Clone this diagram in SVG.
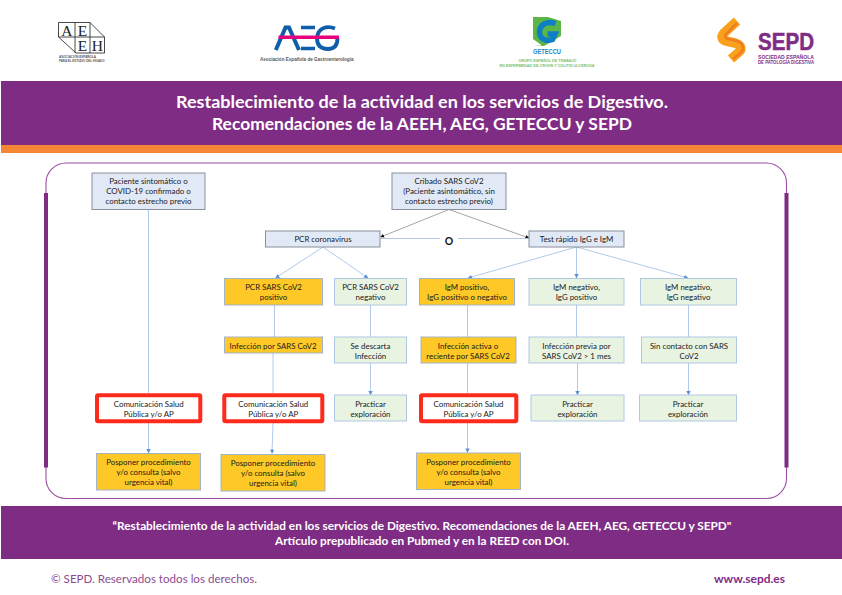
<svg xmlns="http://www.w3.org/2000/svg" width="842" height="595" viewBox="0 0 842 595">
<style>
text{font-family:Lato,"Open Sans",sans-serif}
.t{font-size:7.900px;fill:#1a1a1a;text-anchor:middle}
.blue{fill:#e2e9f6;stroke:#8a8f99;stroke-width:1}
.or{fill:#fec827;stroke:#a3b4c8;stroke-width:1}
.gr{fill:#e9f3e2;stroke:#b0c8e4;stroke-width:1}
.red{fill:#fff;stroke:#fe2a1c;stroke-width:4}
.c{fill:none;stroke:#a9c4e8;stroke-width:.9}
.k{fill:none;stroke:#7f7f7f;stroke-width:.7}
.h{font-size:17px;font-weight:700;fill:#fff;text-anchor:middle}
.f{font-size:10.500px;font-weight:700;fill:#fff;text-anchor:middle}
.s{font-family:"Liberation Serif",serif;font-size:15.500px;fill:#222;text-anchor:middle}
.b{font-family:"Liberation Sans",sans-serif;font-weight:700}
</style>
<defs>
<marker id="a" viewBox="0 0 6 6" refX="5.500" refY="3" markerWidth="4.400" markerHeight="4.400" markerUnits="userSpaceOnUse" orient="auto"><path d="M0 0L6 3L0 6Z" fill="#5b8fd6"/></marker>
<marker id="b" viewBox="0 0 6 6" refX="5.500" refY="3" markerWidth="4" markerHeight="4" markerUnits="userSpaceOnUse" orient="auto"><path d="M0 0L6 3L0 6Z" fill="#111"/></marker>
</defs>
<rect width="842" height="595" fill="#fff"/>

<g id="logo-aeeh">
<path d="M58.500 22.500H90L104.500 37V53H76L58.500 37Z" fill="#fff" stroke="#333" stroke-width=".9"/>
<path d="M58.500 37H104.500M75 22.500V53M90 22.500V53" fill="none" stroke="#333" stroke-width=".9"/>
<text class="s" x="66.800" y="35.500">A</text>
<text class="s" x="82.500" y="35.500">E</text>
<text class="s" x="82.500" y="51">E</text>
<text class="s" x="97.300" y="51">H</text>
<text class="b" x="59" y="57.500" font-size="2.900" fill="#555" textLength="37" lengthAdjust="spacingAndGlyphs">ASOCIACIÓN ESPAÑOLA</text>
<text class="b" x="59" y="61.500" font-size="2.900" fill="#555" textLength="45.500" lengthAdjust="spacingAndGlyphs">PARA EL ESTUDIO DEL HÍGADO</text>
</g>

<g id="logo-aeg">
<path d="M275.800 50L285.500 27.500H289L299 50" fill="none" stroke="#0f5ea8" stroke-width="4"/>
<path d="M301 27.500H315M301 48.500H315" fill="none" stroke="#0f5ea8" stroke-width="3.600"/>
<path d="M335 28.500C328 25.500 318 27 317 38C317 47 323 49 328 49C335 49 337.500 44 337.500 38" fill="none" stroke="#0f5ea8" stroke-width="3.800"/>
<path d="M278.500 37.300H339" fill="none" stroke="#e6007e" stroke-width="3.600"/>
<text class="b" x="260" y="60.500" font-size="5.600" fill="#555" textLength="93.500" lengthAdjust="spacingAndGlyphs">Asociación Española de Gastroenterología</text>
</g>

<g id="logo-geteccu">
<rect x="533" y="17" width="28" height="29" fill="#5cb547"/>
<path d="M548 17H561V21ZM533 46V39L542 45.500ZM561 36V46H544Z" fill="#fff"/>
<path d="M555.500 23.500C547 20.500 540 24.500 539.500 31.500C539 38.500 546 42 552.500 39.500L555 34H547.500" fill="none" stroke="#0e7fc4" stroke-width="5.500"/>
<text class="b" x="547" y="53.800" font-size="6.500" fill="#1e83c6" text-anchor="middle" textLength="28" lengthAdjust="spacingAndGlyphs">GETECCU</text>
<text class="b" x="547.500" y="62" font-size="3.600" fill="#7cc06c" text-anchor="middle" textLength="58" lengthAdjust="spacingAndGlyphs">GRUPO ESPAÑOL DE TRABAJO</text>
<text class="b" x="547" y="67" font-size="3.600" fill="#7cc06c" text-anchor="middle" textLength="95" lengthAdjust="spacingAndGlyphs">EN ENFERMEDAD DE CROHN Y COLITIS ULCEROSA</text>
</g>

<g id="logo-sepd">
<path d="M737 21L724 33C720.500 37 722 40 726 41L735 43C741 45 742.500 49 739 52L731 59" fill="none" stroke="#f9a11b" stroke-width="9.500" stroke-linejoin="round"/>
<path d="M737 23L726.500 33.500C724 36 725 38 728 39L737 41C743 43 745 48 741 52.500L733 59" fill="none" stroke="#ee7e22" stroke-width="2.500"/>
<text class="b" x="758" y="50" font-size="23" fill="#7f2c85" stroke="#7f2c85" stroke-width=".5" textLength="56" lengthAdjust="spacingAndGlyphs">SEPD</text>
<text class="b" x="758" y="58.700" font-size="4.700" fill="#7f2c85" textLength="56" lengthAdjust="spacingAndGlyphs">SOCIEDAD ESPAÑOLA</text>
<text class="b" x="758" y="63.700" font-size="4.700" fill="#7f2c85" textLength="56" lengthAdjust="spacingAndGlyphs">DE PATOLOGÍA DIGESTIVA</text>
</g>

<g id="header">
<rect x="1" y="81" width="841" height="64" fill="#7f2c85"/>
<rect x="1" y="145" width="841" height="8" fill="#f58634"/>
<text class="h" x="422" y="108" textLength="492" lengthAdjust="spacingAndGlyphs">Restablecimiento de la actividad en los servicios de Digestivo.</text>
<text class="h" x="422" y="130" textLength="420" lengthAdjust="spacingAndGlyphs">Recomendaciones de la AEEH, AEG, GETECCU y SEPD</text>
</g>

<g id="frame">
<rect x="46" y="163" width="740.500" height="335.500" rx="20" ry="20" fill="#fff" stroke="#9c4fa2" stroke-width="1.100"/>
<rect x="44" y="193" width="4" height="274.500" fill="#7f2c85"/>
<rect x="784.500" y="193" width="4" height="274.500" fill="#7f2c85"/>
</g>

<g id="connectors">
<path class="c" d="M148.500 209.500V393"/>
<path class="c" d="M148.500 423V453" marker-end="url(#a)"/>
<path class="k" d="M449 209.500L380.500 237" marker-end="url(#b)"/>
<path class="k" d="M449 209.500L529 238" marker-end="url(#b)"/>
<path class="c" d="M380.500 238.500H440M458 238.500H529"/>
<path class="c" d="M323 247L275.500 278" marker-end="url(#a)"/>
<path class="c" d="M323 247L368 278" marker-end="url(#a)"/>
<path class="c" d="M576.500 247L468 278" marker-end="url(#a)"/>
<path class="c" d="M576.500 247V278" marker-end="url(#a)"/>
<path class="c" d="M576.500 247L688 278" marker-end="url(#a)"/>
<path class="c" d="M274.500 305V337M370.500 305V337M467.500 305V337M576.500 305V337M688.500 305V337"/>
<path class="c" d="M273 353V393M467.500 363V393"/>
<path class="c" d="M370.500 363V395" marker-end="url(#a)"/>
<path class="c" d="M577.500 363V395" marker-end="url(#a)"/>
<path class="c" d="M688.500 363V395" marker-end="url(#a)"/>
<path class="c" d="M273 423L272 453.500" marker-end="url(#a)"/>
<path class="c" d="M467.500 423V452.500" marker-end="url(#a)"/>
</g>
<text id="label-o" x="449" y="245" font-size="10.500" font-weight="700" fill="#111" text-anchor="middle">O</text>

<g id="n1"><rect class="blue" x="92" y="173" width="113" height="36.500"/><text class="t" x="148.500" y="184.200">Paciente sintomático o</text><text class="t" x="148.500" y="194.300">COVID-19 confirmado o</text><text class="t" x="148.500" y="204.300">contacto estrecho previo</text></g>
<g id="n2"><rect class="blue" x="392" y="173" width="114" height="36.500"/><text class="t" x="449" y="184.200">Cribado SARS CoV2</text><text class="t" x="449" y="194.300">(Paciente asintomático, sin</text><text class="t" x="449" y="204.300">contacto estrecho previo)</text></g>
<g id="n3"><rect class="blue" x="265.500" y="231" width="114.500" height="16"/><text class="t" x="323" y="242.300">PCR coronavirus</text></g>
<g id="n4"><rect class="blue" x="529" y="231" width="95" height="16"/><text class="t" x="576.500" y="242.300">Test rápido IgG e IgM</text></g>

<g id="n5"><rect class="or" x="224.500" y="278.500" width="98" height="26.500"/><text class="t" x="273.500" y="290">PCR SARS CoV2</text><text class="t" x="273.500" y="300">positivo</text></g>
<g id="n6"><rect class="gr" x="334.500" y="278.500" width="72" height="26.500"/><text class="t" x="370.500" y="290">PCR SARS CoV2</text><text class="t" x="370.500" y="300">negativo</text></g>
<g id="n7"><rect class="or" x="419.500" y="278.500" width="95" height="26.500"/><text class="t" x="467" y="290">IgM positivo,</text><text class="t" x="467" y="300">IgG positivo o negativo</text></g>
<g id="n8"><rect class="gr" x="529" y="278.500" width="95" height="26.500"/><text class="t" x="576.500" y="290">IgM negativo,</text><text class="t" x="576.500" y="300">IgG positivo</text></g>
<g id="n9"><rect class="gr" x="640.500" y="278.500" width="96" height="26.500"/><text class="t" x="688.500" y="290">IgM negativo,</text><text class="t" x="688.500" y="300">IgG negativo</text></g>

<g id="n10"><rect class="or" x="224.500" y="337" width="98" height="16"/><text class="t" x="273" y="348.500">Infección por SARS CoV2</text></g>
<g id="n11"><rect class="gr" x="334.500" y="337" width="72" height="26"/><text class="t" x="370.500" y="348.500">Se descarta</text><text class="t" x="370.500" y="358.500">Infección</text></g>
<g id="n12"><rect class="or" x="421" y="337" width="95" height="26"/><text class="t" x="468" y="348.500">Infección activa o</text><text class="t" x="468" y="358.500">reciente por SARS CoV2</text></g>
<g id="n13"><rect class="gr" x="529" y="337" width="95" height="26"/><text class="t" x="576.500" y="348.500">Infección previa por</text><text class="t" x="576.500" y="358.500">SARS CoV2 &gt; 1 mes</text></g>
<g id="n14"><rect class="gr" x="641.500" y="337" width="95" height="26"/><text class="t" x="689" y="348.500">Sin contacto con SARS</text><text class="t" x="689" y="358.500">CoV2</text></g>

<g id="n15"><rect class="red" x="97" y="395.300" width="103.300" height="26" rx="1"/><text class="t" x="148.700" y="406.500">Comunicación Salud</text><text class="t" x="148.700" y="416.500">Pública y/o AP</text></g>
<g id="n16"><rect class="red" x="224.300" y="395.300" width="98" height="26" rx="1"/><text class="t" x="273.300" y="406.500">Comunicación Salud</text><text class="t" x="273.300" y="416.500">Pública y/o AP</text></g>
<g id="n17"><rect class="red" x="421" y="395.300" width="95.300" height="26" rx="1"/><text class="t" x="468.500" y="406.500">Comunicación Salud</text><text class="t" x="468.500" y="416.500">Pública y/o AP</text></g>
<g id="n18"><rect class="gr" x="334.500" y="395" width="72" height="26"/><text class="t" x="370.500" y="406.500">Practicar</text><text class="t" x="370.500" y="416.500">exploración</text></g>
<g id="n19"><rect class="gr" x="531" y="395" width="93" height="26"/><text class="t" x="577.500" y="406.500">Practicar</text><text class="t" x="577.500" y="416.500">exploración</text></g>
<g id="n20"><rect class="gr" x="639.500" y="395" width="97" height="26"/><text class="t" x="688" y="406.500">Practicar</text><text class="t" x="688" y="416.500">exploración</text></g>

<g id="n21"><rect class="or" x="96.500" y="453.500" width="104" height="36.500"/><text class="t" x="148.500" y="465">Posponer procedimiento</text><text class="t" x="148.500" y="475">y/o consulta (salvo</text><text class="t" x="148.500" y="485">urgencia vital)</text></g>
<g id="n22"><rect class="or" x="221" y="454.500" width="104" height="36.500"/><text class="t" x="273" y="466">Posponer procedimiento</text><text class="t" x="273" y="476">y/o consulta (salvo</text><text class="t" x="273" y="486">urgencia vital)</text></g>
<g id="n23"><rect class="or" x="416.500" y="453" width="104" height="36.500"/><text class="t" x="468.500" y="464.500">Posponer procedimiento</text><text class="t" x="468.500" y="474.500">y/o consulta (salvo</text><text class="t" x="468.500" y="484.500">urgencia vital)</text></g>

<g id="footer">
<rect x="1" y="506" width="841" height="53" fill="#7f2c85"/>
<text class="f" x="422" y="530" textLength="619" lengthAdjust="spacingAndGlyphs">“Restablecimiento de la actividad en los servicios de Digestivo. Recomendaciones de la AEEH, AEG, GETECCU y SEPD"</text>
<text class="f" x="422" y="544.500" textLength="294" lengthAdjust="spacingAndGlyphs">Artículo prepublicado en Pubmed y en la REED con DOI.</text>
<text x="51" y="583" font-size="11" fill="#8d4b92" textLength="206" lengthAdjust="spacingAndGlyphs">© SEPD. Reservados todos los derechos.</text>
<text x="714" y="583" font-size="11" font-weight="700" fill="#7f2c85" textLength="71" lengthAdjust="spacingAndGlyphs">www.sepd.es</text>
</g>
</svg>
